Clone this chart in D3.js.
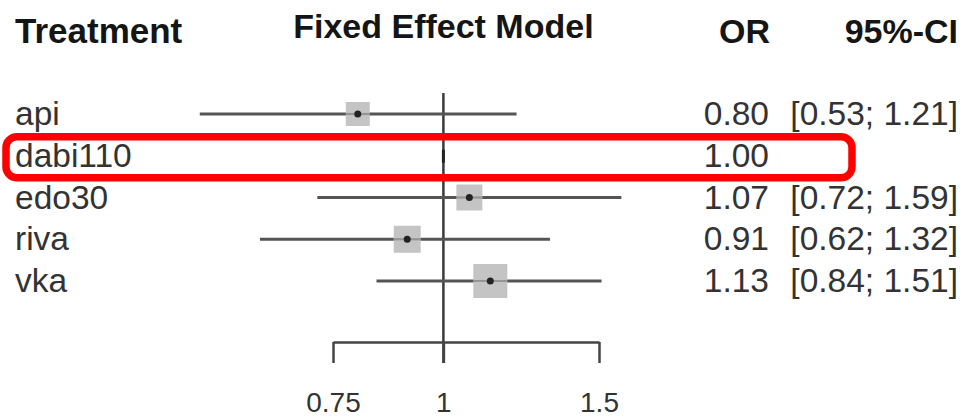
<!DOCTYPE html>
<html>
<head>
<meta charset="utf-8">
<script src="https://cdn.jsdelivr.net/npm/d3@7/dist/d3.min.js"></script>
<style>
  html, body { margin: 0; padding: 0; background: #fff; }
  svg { display: block; font-family: "Liberation Sans", Arial, Helvetica, sans-serif; }
</style>
</head>
<body>
<svg id="chart" width="963" height="419"></svg>
<script>
// ---- data ----
const treatments = ["api", "dabi110", "edo30", "riva", "vka"];
const orValues   = [0.80, 1.00, 1.07, 0.91, 1.13];
const ciLower    = [0.53, null, 0.72, 0.62, 0.84];
const ciUpper    = [1.21, null, 1.59, 1.32, 1.51];
const weights    = [18.4, null, 21.5, 23.2, 36.9];   // estimated from square sizes
const tickValues = [0.75, 1, 1.5];
const tickLabels = ["0.75", "1", "1.5"];
const highlighted = "dabi110";

const fmt = d3.format(".2f");

const svg = d3.select("#chart");

// ---- scales ----
const x = d3.scaleLog().domain([0.75, 1.5]).range([333, 599]);
const y = d3.scalePoint().domain(treatments).range([114, 281]);
const side = d3.scaleSqrt().domain([0, d3.max(weights)]).range([0, 34]);

const rows = treatments.map((t, i) => ({
  name: t, or: orValues[i], lo: ciLower[i], hi: ciUpper[i], w: weights[i]
}));

// ---- headers ----
const hdr = svg.append("g").attr("font-weight", "bold").attr("font-size", 34).attr("fill", "#151515");
hdr.append("text").attr("x", 15).attr("y", 43).attr("font-size", 35).text("Treatment");
hdr.append("text").attr("x", x(1)).attr("y", 38).attr("text-anchor", "middle").text("Fixed Effect Model");
hdr.append("text").attr("x", 770).attr("y", 43).attr("text-anchor", "end").text("OR");
hdr.append("text").attr("x", 958).attr("y", 43).attr("text-anchor", "end").text("95%-CI");

// ---- reference line ----
svg.append("line")
  .attr("x1", x(1)).attr("x2", x(1))
  .attr("y1", 93).attr("y2", 363)
  .attr("stroke", "#3a3a3a").attr("stroke-width", 2.5);

// ---- CI lines ----
const ci = rows.filter(d => d.lo != null);
svg.append("g").selectAll("line").data(ci).join("line")
  .attr("x1", d => x(d.lo)).attr("x2", d => x(d.hi))
  .attr("y1", d => y(d.name)).attr("y2", d => y(d.name))
  .attr("stroke", "#555").attr("stroke-width", 2.8);

// ---- squares ----
svg.append("g").selectAll("rect").data(ci).join("rect")
  .attr("x", d => x(d.or) - side(d.w) / 2)
  .attr("y", d => y(d.name) - side(d.w) / 2)
  .attr("width", d => side(d.w)).attr("height", d => side(d.w))
  .attr("fill", "#c4c4c4");

// CI line passing faintly through squares
svg.append("g").selectAll("line").data(ci).join("line")
  .attr("x1", d => x(d.or) - side(d.w) / 2).attr("x2", d => x(d.or) + side(d.w) / 2)
  .attr("y1", d => y(d.name)).attr("y2", d => y(d.name))
  .attr("stroke", "#777").attr("stroke-width", 2.2).attr("opacity", 0.6);

// point estimates
svg.append("g").selectAll("circle").data(ci).join("circle")
  .attr("cx", d => x(d.or)).attr("cy", d => y(d.name)).attr("r", 3.5)
  .attr("fill", "#222");

// reference treatment mark
const ref = rows.filter(d => d.lo == null);
svg.append("g").selectAll("line").data(ref).join("line")
  .attr("x1", d => x(d.or)).attr("x2", d => x(d.or))
  .attr("y1", d => y(d.name) - 6).attr("y2", d => y(d.name) + 7)
  .attr("stroke", "#222").attr("stroke-width", 3);

// ---- row text ----
const body = svg.append("g").attr("font-size", 33.5).attr("fill", "#333");
body.selectAll("text.lab").data(rows).join("text").attr("class", "lab")
  .attr("x", 15).attr("y", d => y(d.name) + 11).text(d => d.name);
body.selectAll("text.or").data(rows).join("text").attr("class", "or")
  .attr("x", 769).attr("y", d => y(d.name) + 11).attr("text-anchor", "end")
  .text(d => fmt(d.or));
body.selectAll("text.ci").data(ci).join("text").attr("class", "ci")
  .attr("x", 958).attr("y", d => y(d.name) + 11).attr("text-anchor", "end")
  .text(d => `[${fmt(d.lo)}; ${fmt(d.hi)}]`);

// ---- x axis ----
const axis = d3.axisBottom(x)
  .tickValues(tickValues)
  .tickFormat((d, i) => tickLabels[i])
  .tickSize(21)
  .tickSizeOuter(0)
  .tickPadding(12);
const ax = svg.append("g").attr("transform", "translate(0,342)").call(axis);
ax.select(".domain").attr("stroke", "#444").attr("stroke-width", 2.5);
ax.selectAll(".tick line").attr("stroke", "#444").attr("stroke-width", 2.5);
ax.selectAll(".tick text")
  .attr("font-size", 28).attr("fill", "#333")
  .attr("font-family", "'Liberation Sans', Arial, sans-serif")
  .attr("dy", null).attr("y", 70);

// ---- highlight box around reference row ----
svg.append("rect")
  .attr("x", 6).attr("y", y(highlighted) - 19)
  .attr("width", 846).attr("height", 41)
  .attr("rx", 11).attr("ry", 11)
  .attr("fill", "none").attr("stroke", "#ff0000").attr("stroke-width", 7.5);
</script>
</body>
</html>
